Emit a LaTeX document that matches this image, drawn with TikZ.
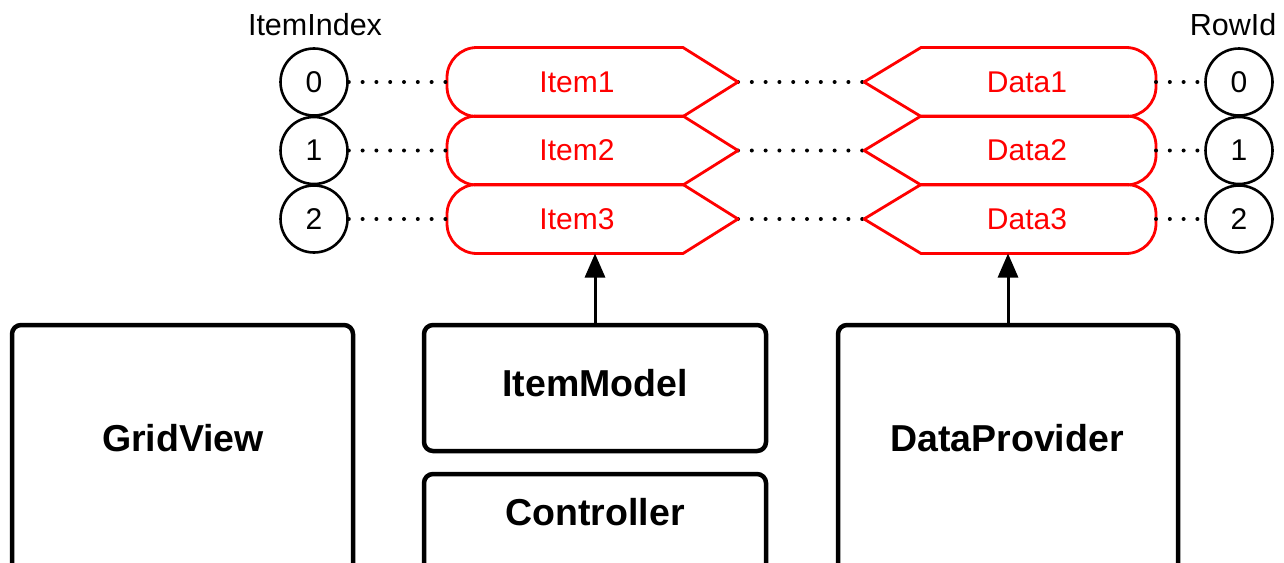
\documentclass[tikz,border=0pt]{standalone}
\usepackage{fontspec}
\setmainfont{Liberation Sans}
\usetikzlibrary{arrows.meta}
\begin{document}
\begin{tikzpicture}[x=1pt,y=-1pt,
  circ/.style={circle, draw, line width=2.6pt, minimum size=67pt, inner sep=0pt, font=\fontsize{30}{32}\selectfont},
  lbl/.style={font=\fontsize{30.5}{32}\selectfont, inner sep=0pt},
  redtxt/.style={text=red, font=\fontsize{30}{32}\selectfont, inner sep=0pt},
  redshape/.style={draw=red, line width=2.8pt, line join=round},
  dots/.style={line width=4pt, dash pattern=on 0pt off 13.8pt, line cap=round},
  box/.style={draw, line width=4.5pt, rounded corners=9pt, inner sep=0pt},
  boxtext/.style={font=\bfseries\fontsize{37.5}{40}\selectfont, inner sep=0pt},
  arr/.style={line width=3pt, -{Triangle[width=20pt,length=24pt]}}]
\useasboundingbox (0,0) rectangle (1284,562);
\fill[white] (0,0) rectangle (1284,562);
\clip (0,0) rectangle (1284,562);

\node[lbl] (itemindex) at (315,25) {ItemIndex};
\node[lbl] (rowid) at (1233,25) {RowId};

\foreach \n/\y [count=\i] in {0/82,1/150.5,2/219}{
  \coordinate (IL\n) at (447,\y);
  \coordinate (IR\n) at (738,\y);
  \coordinate (DL\n) at (864,\y);
  \coordinate (DR\n) at (1156,\y);
  \draw[dots] (IR\n) -- (DL\n);
  \draw[redshape] (447,\y) -- (447,\y-4.5) .. controls (447,\y-21.07) and (460.43,\y-34.5) .. (477,\y-34.5) -- (683,\y-34.5) -- (738,\y) -- (683,\y+34.5) -- (477,\y+34.5) .. controls (460.43,\y+34.5) and (447,\y+21.07) .. (447,\y+4.5) -- cycle;
  \draw[redshape] (1156,\y) -- (1156,\y-4.5) .. controls (1156,\y-21.07) and (1142.57,\y-34.5) .. (1126,\y-34.5) -- (921,\y-34.5) -- (864,\y) -- (921,\y+34.5) -- (1126,\y+34.5) .. controls (1142.57,\y+34.5) and (1156,\y+21.07) .. (1156,\y+4.5) -- cycle;
  \node[circ] (L\n) at (314,\y) {\n};
  \node[circ] (R\n) at (1239,\y) {\n};
  \node[redtxt] (item\i) at (577,\y) {Item\i};
  \node[redtxt] (data\i) at (1027,\y) {Data\i};
  \draw[dots] (L\n) -- (IL\n);
  \draw[dots] (DR\n) -- (R\n);
}

\node[box, minimum width=341pt, minimum height=275pt] (grid) at (182.5,462.5) {};
\node[box, minimum width=342pt, minimum height=126pt] (imodel) at (595,388) {};
\node[box, minimum width=342pt, minimum height=126pt] (ctrl) at (595,537) {};
\node[box, minimum width=340pt, minimum height=275pt] (dprov) at (1008,462.5) {};

\node[boxtext] (gridlbl) at (183,438) {GridView};
\node[boxtext] (imodellbl) at (595,383) {ItemModel};
\node[boxtext] (ctrllbl) at (595,512) {Controller};
\node[boxtext] (dprovlbl) at (1007,438) {DataProvider};

\coordinate (I3B) at (595,253.5);
\coordinate (D3B) at (1008,253.5);
\draw[arr] (imodel.north) -- (I3B);
\draw[arr] (dprov.north) -- (D3B);
\end{tikzpicture}
\end{document}
